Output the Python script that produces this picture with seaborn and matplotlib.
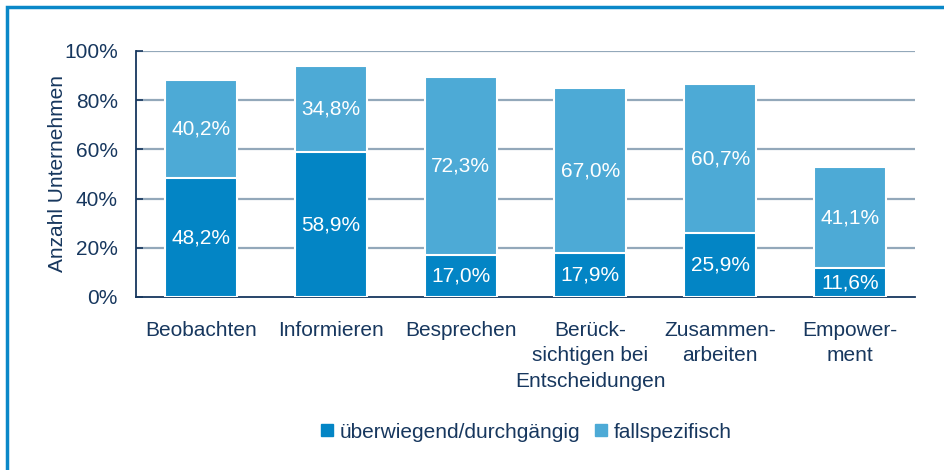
import matplotlib
matplotlib.use("Agg")
import matplotlib.pyplot as plt
import seaborn as sns
import pandas as pd
from matplotlib.patches import Rectangle
from matplotlib.lines import Line2D

categories = ["Beobachten", "Informieren", "Besprechen",
              "Berück-\nsichtigen bei\nEntscheidungen", "Zusammen-\narbeiten", "Empower-\nment"]
ueberwiegend = [48.2, 58.9, 17.0, 17.9, 25.9, 11.6]
fallspezifisch = [40.2, 34.8, 72.3, 67.0, 60.7, 41.1]
y_ticks = [0, 20, 40, 60, 80, 100]
series_names = ["überwiegend/durchgängig", "fallspezifisch"]

DARK = "#0385C5"
LIGHT = "#4DAAD6"
NAVY = "#17375e"
GRID = "#93a8ba"

sns.set_theme(style="white")
plt.rcParams["font.family"] = ["Liberation Sans", "DejaVu Sans"]

df = pd.DataFrame({
    "cat": categories,
    "bottom": ueberwiegend,
    "top": fallspezifisch,
})
df["total"] = df["bottom"] + df["top"]

fig = plt.figure(figsize=(9.44, 4.70), dpi=100)
W, H = 944, 470
ax = fig.add_axes([136 / W, 1 - 297 / H, (915 - 136) / W, (297 - 51) / H])

for y in y_ticks[1:]:
    ax.axhline(y, color=GRID, lw=1.6, zorder=0)

sns.barplot(data=df, x="cat", y="total", color=LIGHT, width=0.555,
            saturation=1, edgecolor="white", linewidth=1.5, ax=ax, zorder=2)
sns.barplot(data=df, x="cat", y="bottom", color=DARK, width=0.555,
            saturation=1, edgecolor="white", linewidth=1.5, ax=ax, zorder=3)

for i, (b, t) in enumerate(zip(ueberwiegend, fallspezifisch)):
    ax.text(i, b / 2, f"{b:.1f}%".replace(".", ","), ha="center", va="center",
            color="white", fontsize=15, zorder=5)
    ax.text(i, b + t / 2, f"{t:.1f}%".replace(".", ","), ha="center", va="center",
            color="white", fontsize=15, zorder=5)

ax.set_xlim(-0.5, len(categories) - 0.5)
ax.set_ylim(0, 100)
ax.set_yticks(y_ticks)
ax.set_yticklabels([f"{v}%" for v in y_ticks], color=NAVY, fontsize=15)
ax.set_xticks(range(len(categories)))
ax.set_xticklabels(categories, color=NAVY, fontsize=15, linespacing=1.45)
ax.set_xticks([i - 0.5 for i in range(len(categories) + 1)], minor=True)
ax.tick_params(axis="x", which="major", length=0, pad=17)
ax.tick_params(axis="x", which="minor", direction="in", length=5, width=1.2, color=NAVY)
ax.tick_params(axis="y", direction="in", length=5, width=1.2, color=NAVY, pad=13, left=True)
ax.set_xlabel("")
ax.set_ylabel("Anzahl Unternehmen", color=NAVY, fontsize=15, labelpad=-2)

for s in ["top", "right"]:
    ax.spines[s].set_visible(False)
for s in ["left", "bottom"]:
    ax.spines[s].set_visible(True)
    ax.spines[s].set_color(NAVY)
    ax.spines[s].set_linewidth(1.3)

handles = [Line2D([], [], marker="s", ls="", color=DARK, markersize=9),
           Line2D([], [], marker="s", ls="", color=LIGHT, markersize=9)]
fig.legend(handles, series_names, loc="center", bbox_to_anchor=(525.5 / W, 1 - 432 / H),
           ncol=2, frameon=False, fontsize=15, labelcolor=NAVY,
           handletextpad=0.2, columnspacing=0.6, handlelength=0.8)

border = Rectangle((7 / W, -0.2), 1.2, 1.2 - 7 / H, transform=fig.transFigure,
                   fill=False, edgecolor="#0A88C8", lw=2.5, clip_on=False)
fig.patches.append(border)

fig.savefig("out.png", dpi=100)
